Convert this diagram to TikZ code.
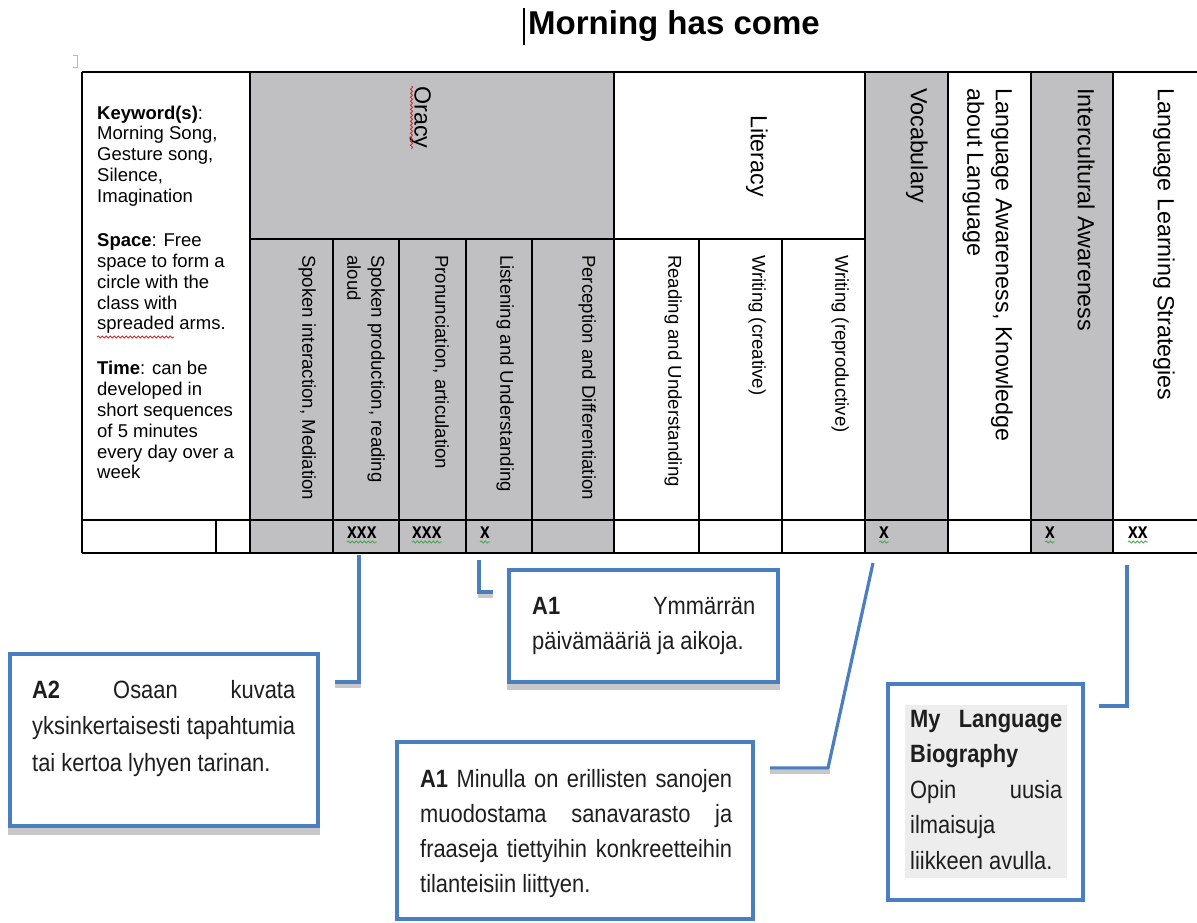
\documentclass[tikz,border=0pt]{standalone}
\usepackage{fontspec}
\setmainfont{Liberation Sans}
\newfontfamily\callfont[FakeStretch=0.875]{Liberation Sans}
\newfontfamily\markfont[FakeStretch=0.8]{Liberation Sans}
\usetikzlibrary{calc,decorations.pathmorphing}
\definecolor{cellgray}{RGB}{192,192,194}
\definecolor{calloutblue}{RGB}{74,126,193}
\definecolor{shadegray}{RGB}{200,200,200}
\definecolor{notegray}{RGB}{236,237,236}
\definecolor{inkgray}{RGB}{30,30,30}
\definecolor{spellred}{RGB}{215,40,40}
\definecolor{spellgreen}{RGB}{70,165,80}

\begin{document}
\begin{tikzpicture}[x=1pt,y=-1pt,
  rule/.style={line width=1.6pt, black},
  vsub/.style={rotate=-90, anchor=north west, inner sep=0pt, align=left,
    font=\fontsize{18.6}{24}\selectfont},
  vhead/.style={rotate=-90, anchor=north west, inner sep=0pt, align=left,
    font=\fontsize{23.3}{28.5}\selectfont},
  tick/.style={anchor=base west, inner sep=0pt,
    font=\markfont\bfseries\fontsize{22}{22}\selectfont},
  spell/.style={decorate, decoration={snake, amplitude=1.1pt, segment length=4pt}, line width=0.8pt},
  callout/.style={draw=calloutblue, line width=4pt, fill=white, outer sep=0pt,
    anchor=north west, inner sep=0pt},
  link/.style={draw=calloutblue, line width=3.2pt, line join=miter},
  linkshade/.style={draw=shadegray, line width=4pt},
  calltext/.style={anchor=north west, inner sep=0pt, align=left, text=inkgray,
    font=\callfont\fontsize{25}{35}\selectfont},
]
\useasboundingbox (0,0) rectangle (1197,922);

% title with the text cursor in front of it
\node[anchor=base west, inner sep=0pt, font=\bfseries\fontsize{33}{33}\selectfont] (title) at (528,34) {Morning has come};
\draw[line width=1.6pt] (524,8) -- (524,45);
\draw[gray!55, line width=0.8pt] (73,55) -- (77,55) -- (77,67) -- (73,67);

% shaded columns
\fill[cellgray] (250,72) rectangle (614,553);
\fill[cellgray] (865,72) rectangle (948,553);
\fill[cellgray] (1031,72) rectangle (1113,553);

% table rules
\draw[rule] (82,72) -- (1197,72);
\draw[rule] (250,239) -- (865,239);
\draw[rule] (82,520) -- (1197,520);
\draw[rule] (82,553) -- (1197,553);
\foreach \x in {82,250,614,865,948,1031,1113} \draw[rule] (\x,72) -- (\x,553);
\foreach \x in {333,399,466,532,699,782} \draw[rule] (\x,239) -- (\x,553);
\draw[rule] (216,520) -- (216,553);

% activity description
\node[anchor=north west, inner sep=0pt, align=left, font=\fontsize{18.5}{20.8}\selectfont] (info) at (97,105.5)
  {\textbf{Keyword(s)}:\\Morning Song,\\Gesture song,\\Silence,\\Imagination\\[23.5pt]
   \textbf{Space}: Free\\space to form a\\circle with the\\class with\\spreaded arms.\\[24.2pt]
   \textbf{Time}: can be\\developed in\\short sequences\\of 5 minutes\\every day over a\\week};
\draw[spell, spellred] (97,337) -- (174,337);

% group headers
\node[vhead] (oracy) at (431,86) {Oracy};
\draw[spell, spellred] ($(oracy.base west)+(-3,0)$) -- ($(oracy.base east)+(-3,0)$);
\node[vhead] (literacy) at (768,115) {Literacy};
\node[vhead] (vocab) at (928,88) {Vocabulary};
\node[vhead] (lak) at (1013,88) {Language Awareness, Knowledge\\about Language};
\node[vhead] (ica) at (1095,88) {Intercultural Awareness};
\node[vhead] (lls) at (1175,88) {Language Learning Strategies};

% sub headers
\node[vsub] (si) at (316,255) {Spoken interaction, Mediation};
\node[vsub] (sp) at (385,255) {Spoken production, reading\\aloud};
\node[vsub] (pa) at (449,255) {Pronunciation, articulation};
\node[vsub] (lu) at (514,255) {Listening and Understanding};
\node[vsub] (pd) at (596,255) {Perception and Differentiation};
\node[vsub] (ru) at (682,255) {Reading and Understanding};
\node[vsub] (wc) at (766,255) {Writing (creative)};
\node[vsub] (wr) at (849,255) {Writing (reproductive)};

% marks in the bottom row
\node[tick] (x1) at (347,538) {xxx};
\node[tick] (x2) at (412,538) {xxx};
\node[tick] (x3) at (480,538) {x};
\node[tick] (x4) at (879,538) {x};
\node[tick] (x5) at (1045,538) {x};
\node[tick] (x6) at (1128,538) {xx};
\foreach \m in {x1,x2,x3,x4,x5,x6}
  \draw[spell, spellgreen] ($(\m.base west)+(0,4)$) -- ($(\m.base east)+(0,4)$);

% callout boxes
\fill[shadegray] (8,828) rectangle (320,835);
\node[callout, minimum width=308, minimum height=172] (a2) at (10,654) {};
\node[calltext, font=\callfont\fontsize{25}{36.5}\selectfont] (a2t) at ($(a2.north west)+(22,26)$)
  {\hbox to 263pt{\textbf{A2}\hfill Osaan\hfill kuvata}\\
   \hbox to 263pt{yksinkertaisesti\hfill tapahtumia}\\
   tai kertoa lyhyen tarinan.};

\fill[shadegray] (507,684) rectangle (780,690);
\node[callout, minimum width=269, minimum height=112] (a1y) at (509,570) {};
\node[calltext] (a1yt) at ($(a1y.north west)+(23,27)$)
  {\hbox to 223pt{\textbf{A1}\hfill Ymmärrän}\\
   päivämääriä ja aikoja.};

\node[callout, minimum width=356, minimum height=177] (a1m) at (397,742) {};
\node[calltext] (a1mt) at ($(a1m.north west)+(23,27)$)
  {\hbox to 312pt{\textbf{A1}\hfill Minulla\hfill on\hfill erillisten\hfill sanojen}\\
   \hbox to 312pt{muodostama\hfill sanavarasto\hfill ja}\\
   \hbox to 312pt{fraaseja\hfill tiettyihin\hfill konkreetteihin}\\
   tilanteisiin liittyen.};

\node[callout, minimum width=195, minimum height=216] (mlb) at (888,684) {};
\node[fill=notegray, anchor=north west, inner sep=0pt, minimum width=162, minimum height=173] (mlbnote)
  at ($(mlb.north west)+(17,21)$) {};
\node[calltext, font=\callfont\fontsize{25}{35.5}\selectfont] (mlbt) at ($(mlb.north west)+(22,26)$)
  {\hbox to 152pt{\textbf{My}\hfill\textbf{Language}}\\
   \textbf{Biography}\\
   \hbox to 152pt{Opin\hfill uusia}\\
   ilmaisuja\\
   liikkeen avulla.};

% connectors from the marked cells towards the callouts
\coordinate (k1s) at (359,555);
\coordinate (k1e) at (335,682);
\coordinate (k2s) at (479,560);
\coordinate (k2e) at (493,592);
\coordinate (k3s) at (873,563);
\coordinate (k3m) at (828,768);
\coordinate (k3e) at (770,768);
\coordinate (k4s) at (1127,565);
\coordinate (k4e) at (1099,706);

\draw[linkshade] ($(k1e)+(0,4)$) -- ($(k1s|-k1e)+(2,4)$);
\draw[linkshade] ($(k2s|-k2e)+(-1,4)$) -- ($(k2e)+(0,4)$);
\draw[linkshade] ($(k3e)+(0,4)$) -- ($(k3m)+(2,4)$);

\draw[link] (k1s) |- (k1e);
\draw[link] (k2s) |- (k2e);
\draw[link] (k3s) -- (k3m) -- (k3e);
\draw[link] (k4s) |- (k4e);
\end{tikzpicture}
\end{document}
